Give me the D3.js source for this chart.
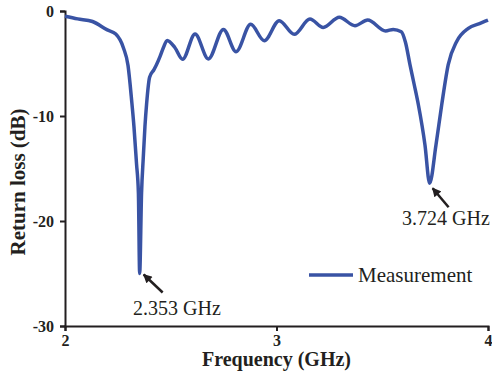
<!DOCTYPE html>
<html>
<head>
<meta charset="utf-8">
<script src="https://cdn.jsdelivr.net/npm/d3@7"></script>
<style>
  body { margin: 0; background: #fff; }
  svg { display: block; }
  svg text { font-family: "Liberation Serif", "Times New Roman", serif; }
  .axis path, .axis line { stroke: #231f20; stroke-width: 2; }
  .axis text { font-family: "Liberation Serif", "Times New Roman", serif; font-weight: bold; font-size: 16px; fill: #231f20; }
</style>
</head>
<body>
<svg width="492" height="379"></svg>
<script>
const freq = [2.00, 2.06, 2.13, 2.20, 2.24, 2.276, 2.298, 2.315, 2.326, 2.338, 2.347, 2.353,
  2.362, 2.370, 2.378, 2.386, 2.40, 2.42, 2.433, 2.45, 2.465, 2.483, 2.52, 2.556, 2.615,
  2.678, 2.749, 2.809, 2.878, 2.942, 3.013, 3.084, 3.158, 3.221, 3.297, 3.371, 3.431,
  3.516, 3.552, 3.59, 3.61, 3.631, 3.651, 3.671, 3.702, 3.724, 3.754, 3.781, 3.812,
  3.852, 3.907, 3.96, 4.00];
const rl = [-0.5, -0.75, -1.0, -1.8, -2.2, -3.5, -5.2, -8.5, -11, -14.5, -17.3, -25.0,
  -17.3, -14, -11, -8.8, -6.3, -5.6, -5.1, -4.3, -3.5, -2.8, -3.5, -4.6, -2.19,
  -4.57, -1.75, -3.87, -1.27, -2.83, -0.92, -2.22, -0.76, -1.56, -0.6, -1.4, -0.86,
  -1.9, -1.75, -1.97, -3.0, -5.1, -7.0, -8.95, -12.76, -16.4, -12.76, -8.95, -5.1,
  -2.9, -1.65, -1.2, -0.86];

const xTicks = [2, 3, 4];
const yTicks = [0, -10, -20, -30];

const markers = [
  { label: "2.353 GHz", f: 2.353, db: -25.0 },
  { label: "3.724 GHz", f: 3.724, db: -16.4 }
];

const svg = d3.select("svg");
const margin = { left: 65, top: 11, right: 4, bottom: 53 };
const w = 492 - margin.left - margin.right,
      h = 379 - margin.top - margin.bottom;

const x = d3.scaleLinear().domain([2, 4]).range([margin.left, margin.left + w]);
const y = d3.scaleLinear().domain([-30, 0]).range([margin.top + h, margin.top]);

// arrow head
svg.append("defs").append("marker")
  .attr("id", "arr")
  .attr("viewBox", "0 0 10 10")
  .attr("refX", 9).attr("refY", 5)
  .attr("markerWidth", 10).attr("markerHeight", 9)
  .attr("markerUnits", "userSpaceOnUse")
  .attr("orient", "auto")
  .append("path").attr("d", "M0,0 L10,5 L0,10 Z").attr("fill", "#231f20");

// axes
const gx = svg.append("g").attr("class", "axis")
  .attr("transform", `translate(0,${margin.top + h})`)
  .call(d3.axisBottom(x).tickValues(xTicks).tickFormat(d3.format("d")).tickSizeOuter(0).tickSize(5).tickPadding(4));
const gy = svg.append("g").attr("class", "axis")
  .attr("transform", `translate(${margin.left},0)`)
  .call(d3.axisLeft(y).tickValues(yTicks).tickFormat(d => d === 0 ? "0" : "-" + Math.abs(d)).tickSizeOuter(0).tickSize(5).tickPadding(6));
gx.attr("font-family", null).attr("font-size", null);
gy.attr("font-family", null).attr("font-size", null);

// curve
const line = d3.line()
  .x((d, i) => x(freq[i]))
  .y((d, i) => y(rl[i]))
  .curve(d3.curveMonotoneX);

svg.append("path")
  .attr("d", line(freq))
  .attr("fill", "none")
  .attr("stroke", "#3953a4")
  .attr("stroke-width", 3.5)
  .attr("stroke-linejoin", "round");

// resonance annotations
const ann = svg.append("g").attr("fill", "#231f20").attr("font-size", 20);
ann.append("line")
  .attr("x1", x(markers[0].f) + 23).attr("y1", y(markers[0].db) + 19)
  .attr("x2", x(markers[0].f) + 4).attr("y2", y(markers[0].db) + 1)
  .attr("stroke", "#231f20").attr("stroke-width", 2.5).attr("marker-end", "url(#arr)");
ann.append("text").attr("x", 133).attr("y", 315).text(markers[0].label);

ann.append("line")
  .attr("x1", x(markers[1].f) + 19).attr("y1", y(markers[1].db) + 24)
  .attr("x2", x(markers[1].f) + 3).attr("y2", y(markers[1].db) + 5)
  .attr("stroke", "#231f20").attr("stroke-width", 2.5).attr("marker-end", "url(#arr)");
ann.append("text").attr("x", 402).attr("y", 225).text(markers[1].label);

// legend
svg.append("line")
  .attr("x1", 309).attr("x2", 353).attr("y1", 275).attr("y2", 275)
  .attr("stroke", "#3953a4").attr("stroke-width", 3.5);
svg.append("text").attr("x", 358).attr("y", 281.5)
  .attr("font-size", 21).attr("fill", "#231f20").text("Measurement");

// axis titles
svg.append("text")
  .attr("x", (x(2) + x(4)) / 2).attr("y", 366)
  .attr("text-anchor", "middle").attr("font-weight", "bold").attr("font-size", 20)
  .attr("fill", "#231f20").text("Frequency (GHz)");
svg.append("text")
  .attr("transform", "translate(25,182) rotate(-90)")
  .attr("text-anchor", "middle").attr("font-weight", "bold").attr("font-size", 21)
  .attr("fill", "#231f20").text("Return loss (dB)");
</script>
</body>
</html>
